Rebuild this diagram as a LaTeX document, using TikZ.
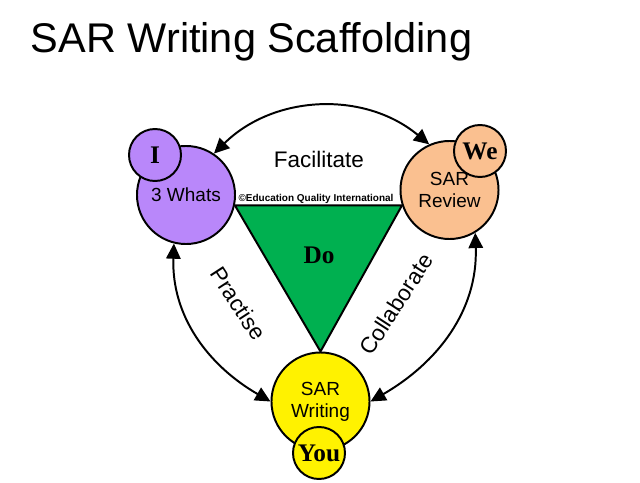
\documentclass[tikz,border=0pt]{standalone}
\usepackage{fontspec}
\setmainfont{Liberation Sans}
\newfontfamily\boldserif{Liberation Serif}
\usetikzlibrary{arrows.meta}

\definecolor{whatscol}{RGB}{185,135,250}
\definecolor{reviewcol}{RGB}{250,192,144}
\definecolor{docol}{RGB}{0,176,80}

\begin{document}
\begin{tikzpicture}[x=0.025cm,y=0.025cm,
  bigdisc/.style={circle,draw=black,line width=1.4pt,minimum size=2.45cm,inner sep=0pt,
    align=center,font=\fontsize{13.5}{15.6}\selectfont},
  smalldisc/.style={circle,draw=black,line width=1.4pt,minimum size=1.3cm,inner sep=0pt,
    font=\boldserif\bfseries\fontsize{18}{20}\selectfont},
  cyclearrow/.style={line width=1.4pt,
    {Triangle[length=3.8mm,width=3.6mm]}-{Triangle[length=3.8mm,width=3.6mm]}},
  sidelabel/.style={font=\fontsize{16}{18}\selectfont}]

\useasboundingbox (0,0) rectangle (640,482);

\node[anchor=base west,font=\fontsize{29.5}{36}\selectfont] (title) at (26,429) {SAR Writing Scaffolding};

\node[bigdisc,fill=whatscol] (whats) at (186,287) {3 Whats};
\node[bigdisc,fill=reviewcol] (review) at (449.5,292) {SAR\\Review};
\node[bigdisc,fill=yellow] (writing) at (320.5,80.5) {SAR\\Writing};

\draw[line width=1.4pt,fill=docol] (whats.-12) -- (review.198) -- (writing.north) -- cycle;
\node[font=\boldserif\bfseries\fontsize{18}{20}\selectfont] (do) at (319,227) {Do};
\node[anchor=base,font=\bfseries\fontsize{7.1}{8}\selectfont] (copy) at (316,280) {©Education Quality International};

\node[smalldisc,fill=whatscol] (me) at (155,327) {I};
\node[smalldisc,fill=reviewcol] (we) at (480,331) {We};
\node[smalldisc,fill=yellow] (you) at (319,29) {You};

\node[sidelabel,anchor=base] (facil) at (319,314) {Facilitate};
\node[sidelabel,rotate=-57] (practise) at (238.5,178.5) {Practise};
\node[sidelabel,rotate=57] (collab) at (396,178) {Collaborate};

% the three links round the triangle
\draw[cyclearrow] (whats.56) to[bend left=42] (review.114);
\draw[cyclearrow] (whats.-104) to[out=-92,in=150] (writing.180);
\draw[cyclearrow] (review.-59) to[out=-88,in=30] (writing.0);

\end{tikzpicture}
\end{document}
